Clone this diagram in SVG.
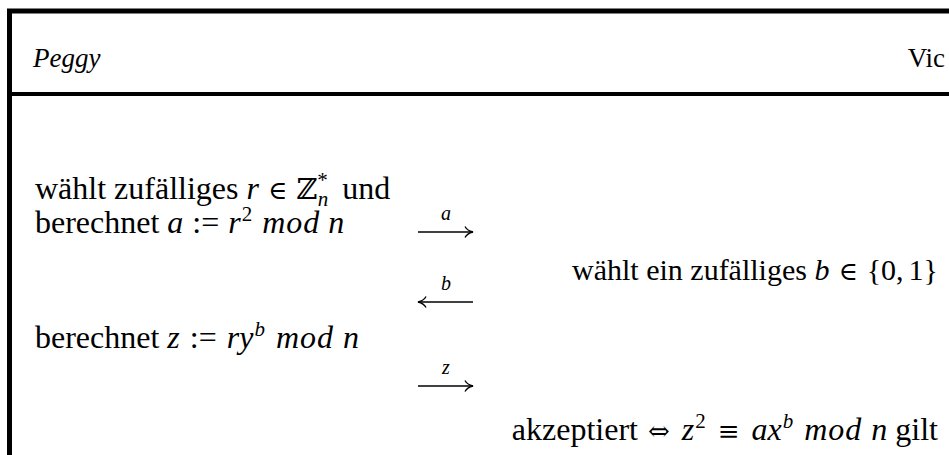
<svg xmlns="http://www.w3.org/2000/svg" width="949" height="455" viewBox="0 0 949 455">
<defs>
<style>
text{font-family:"Liberation Serif","Times New Roman",Times,serif;font-size:32px;fill:#000}
.h{font-size:27px}
.t{font-size:30px}
.m{font-style:italic}
.d{font-style:italic;letter-spacing:1px}
.s{font-size:21px}
.y{font-family:"DejaVu Serif",serif;font-size:26px}
.z{font-family:"DejaVu Serif",serif;font-size:29px}
.k{font-size:30px}
.l{font-size:20px;font-style:italic}
.c{fill:none;stroke:#000;stroke-width:1.6}
</style>
<marker id="hr" viewBox="0 0 10 12" refX="9" refY="6" markerWidth="10" markerHeight="12" markerUnits="userSpaceOnUse" orient="auto">
<path d="M1,0.5 Q3,4.5 9,6 Q3,7.5 1,11.5" fill="none" stroke="#000" stroke-width="1.3"/>
</marker>
</defs>
<rect width="949" height="455" fill="#fff"/>
<g id="frame">
<path d="M9.5,455 V11 H949" fill="none" stroke="#000" stroke-width="5"/>
<line x1="10" y1="94" x2="949" y2="94" stroke="#000" stroke-width="4"/>
</g>
<g id="peggy"><text x="33" y="67" class="h m">Peggy</text></g>
<g id="vic"><text x="945" y="67" class="h" text-anchor="end">Vic</text></g>
<g id="step1">
<text x="35" y="199">wählt zufälliges <tspan class="m">r</tspan><tspan class="y" dx="9">∈</tspan><tspan class="z" dx="9">ℤ</tspan><tspan class="s" dy="-12">*</tspan><tspan class="s m" dx="-10" dy="19">n</tspan><tspan dx="6" dy="-7"> und</tspan></text>
<text x="35" y="233">berechnet <tspan class="m">a</tspan><tspan dx="9">:=</tspan><tspan class="m" dx="9">r</tspan><tspan class="s" dx="1" dy="-12">2</tspan><tspan class="d" dx="10" dy="12">mod</tspan><tspan class="m" dx="8">n</tspan></text>
</g>
<g id="step2">
<text x="938" y="280" text-anchor="end" class="t">wählt ein zufälliges <tspan class="m">b</tspan><tspan class="y" dx="9">∈</tspan><tspan class="k" dx="9">{0,<tspan dx="5">1}</tspan></tspan></text>
</g>
<g id="step3">
<text x="35" y="348">berechnet <tspan class="m">z</tspan><tspan dx="10">:=</tspan><tspan class="m" dx="10">ry</tspan><tspan class="s m" dx="1" dy="-12">b</tspan><tspan class="d" dx="11" dy="12">mod</tspan><tspan class="m" dx="9">n</tspan></text>
</g>
<g id="step4">
<text x="938" y="440" text-anchor="end">akzeptiert <tspan class="y" dx="2">⇔</tspan><tspan class="m" dx="12">z</tspan><tspan class="s" dx="1" dy="-12">2</tspan><tspan class="y" dx="12" dy="12">≡</tspan><tspan class="m" dx="12">ax</tspan><tspan class="s m" dx="1" dy="-12">b</tspan><tspan class="d" dx="11" dy="12">mod</tspan><tspan class="m" dx="9">n</tspan> gilt</text>
</g>
<g id="connectors">
<line class="c" x1="418" y1="232" x2="473" y2="232" marker-end="url(#hr)"/>
<text x="446" y="220" text-anchor="middle" class="l">a</text>
<line class="c" x1="473" y1="302" x2="418" y2="302" marker-end="url(#hr)"/>
<text x="446" y="290" text-anchor="middle" class="l">b</text>
<line class="c" x1="418" y1="386" x2="473" y2="386" marker-end="url(#hr)"/>
<text x="446" y="374" text-anchor="middle" class="l">z</text>
</g>
</svg>
